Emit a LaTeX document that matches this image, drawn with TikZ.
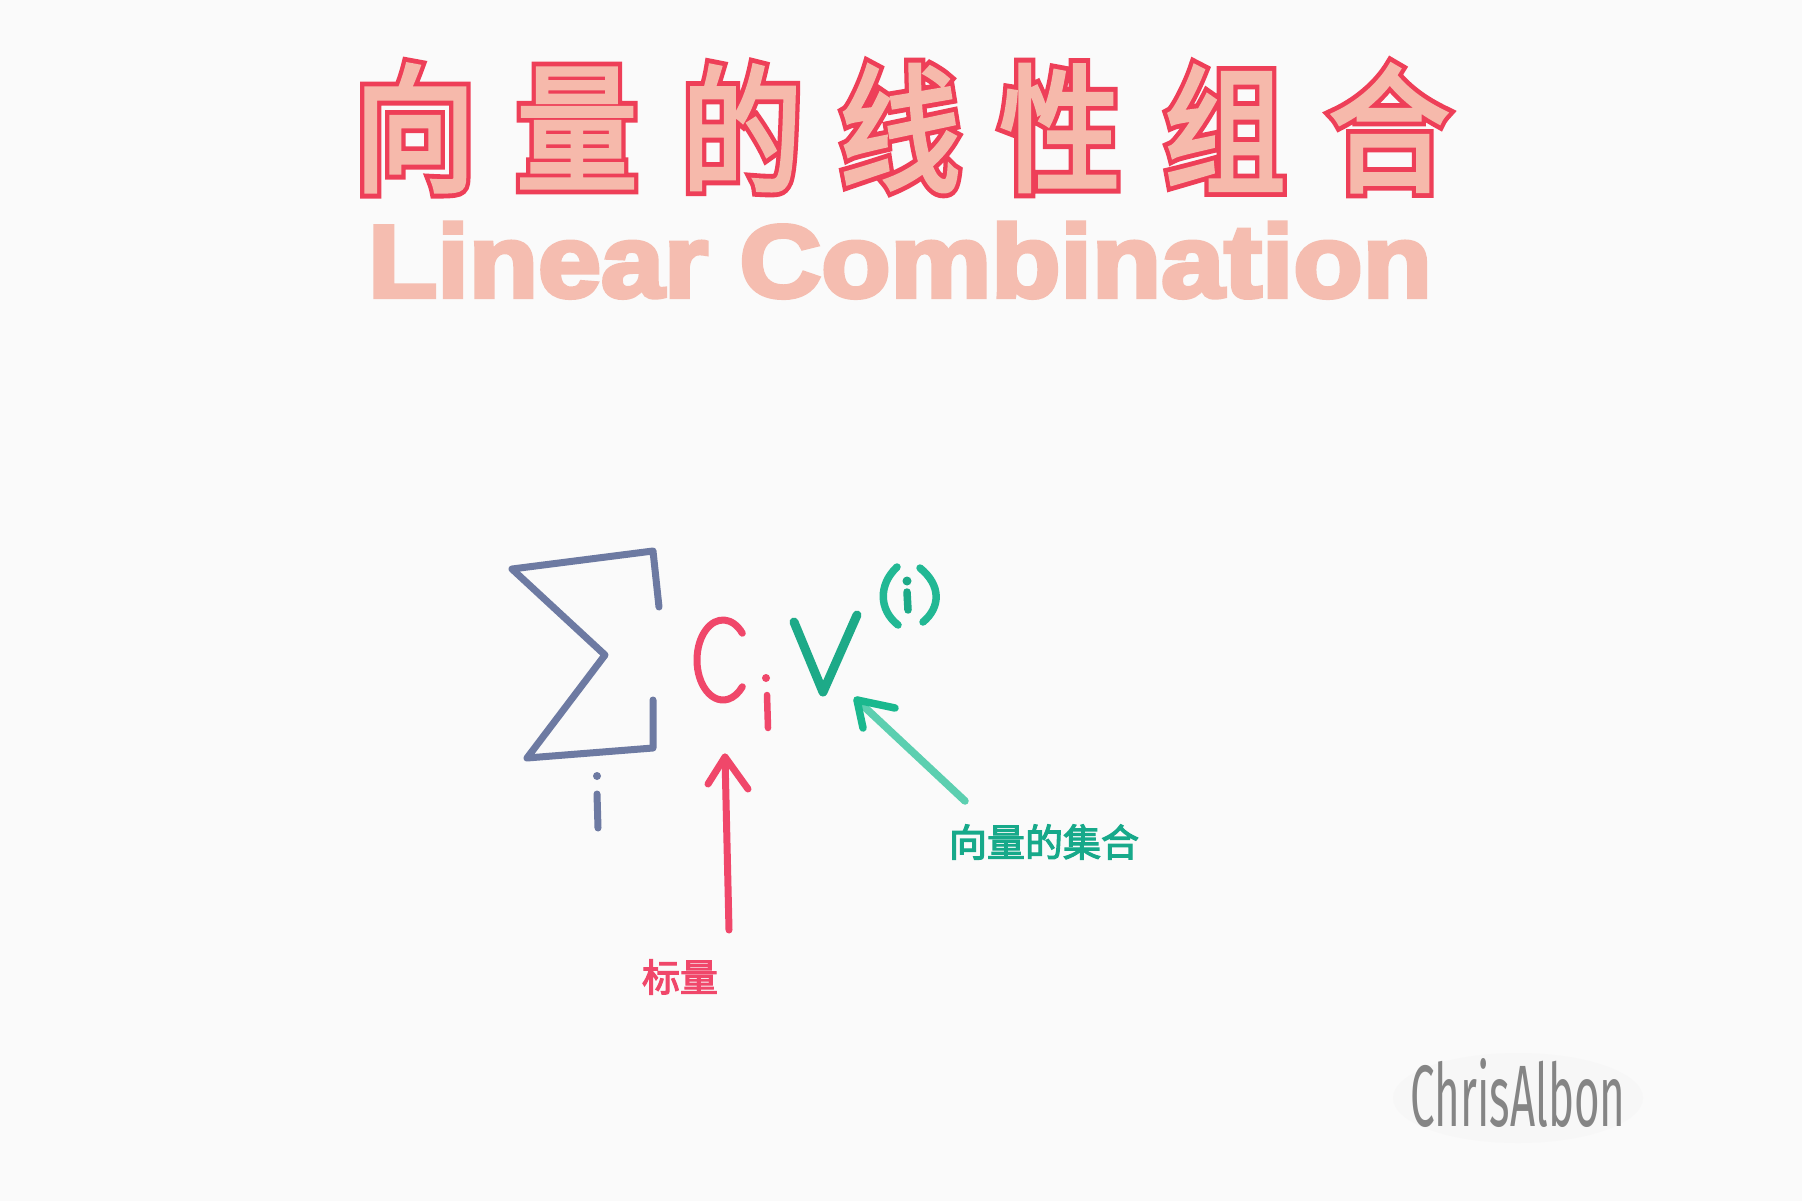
\documentclass[tikz,border=0pt]{standalone}
\usepackage{fontspec}
\usetikzlibrary{calc}
\newfontfamily\cjkout{Noto Sans CJK SC}[FakeBold=10]
\newfontfamily\cjkfill{Noto Sans CJK SC}[FakeBold=3]
\newfontfamily\cjklab{Noto Sans CJK SC}[FakeBold=3]
\newfontfamily\enfont{Liberation Sans}[BoldFeatures={FakeBold=4}]
\newfontfamily\sigfont{Fira Sans}
\definecolor{bg}{HTML}{FAFAFA}
\definecolor{titlered}{HTML}{EE3F58}
\definecolor{titlefill}{HTML}{F6B9AB}
\definecolor{subfill}{HTML}{F5BDB0}
\definecolor{sigmacol}{HTML}{6D7AA2}
\definecolor{cred}{HTML}{F0476A}
\definecolor{vgreen}{HTML}{1DAA88}
\definecolor{pgreen}{HTML}{22B894}
\definecolor{agreen}{HTML}{5CCFB0}
\definecolor{hgreen}{HTML}{1AB88E}
\definecolor{lgreen}{HTML}{17A98A}
\definecolor{sgray}{HTML}{858585}
\begin{document}
\begin{tikzpicture}[x=1pt,y=-1pt,
  titleout/.style={inner sep=0pt,text=titlered,font=\cjkout\fontsize{138pt}{138pt}\selectfont},
  titlefil/.style={inner sep=0pt,text=titlefill,font=\cjkfill\fontsize{138pt}{138pt}\selectfont},
  labelred/.style={inner sep=0pt,text=cred,font=\cjklab\fontsize{38pt}{38pt}\selectfont},
  labelgreen/.style={inner sep=0pt,text=lgreen,font=\cjklab\fontsize{38pt}{38pt}\selectfont},
  pen/.style={line cap=round,line join=round},
  sigmapen/.style={pen,draw=sigmacol,line width=7pt},
  redpen/.style={pen,draw=cred,line width=7pt},
  greenpen/.style={pen,draw=vgreen,line width=9pt},
  parenpen/.style={pen,draw=pgreen,line width=7.5pt},
  arrowpen/.style={pen,draw=agreen,line width=7.5pt},
  headpen/.style={pen,draw=hgreen,line width=7.5pt}
]
\useasboundingbox (0,0) rectangle (1802,1201);
\fill[bg] (0,0) rectangle (1802,1201);

% Title
\foreach \ch/\xx in {向/415,量/577,的/742,线/900,性/1060,组/1225,合/1389} {
  \node[titleout] (tout\xx) at (\xx,128) {\scalebox{0.88}[1]{\ch}};
}
\foreach \ch/\xx in {向/415,量/577,的/742,线/900,性/1060,组/1225,合/1389} {
  \node[titlefil] (tfil\xx) at (\xx,128) {\scalebox{0.88}[1]{\ch}};
}
\node[inner sep=0pt,anchor=base,text=subfill,font=\enfont\bfseries\fontsize{103pt}{103pt}\selectfont] (sub) at (900,297) {\scalebox{1.1}[1]{Linear Combination}};

% Sigma
\draw[sigmapen] (659,607) -- (653,551) -- (512,569) -- (605,655) -- (527,758) -- (653,748) -- (653,700);
\fill[sigmacol] (597,776) circle (4pt);
\draw[sigmapen] (597,794) -- (598,828);

% C_i
\draw[redpen] ($(723,660)+(-42:26 and 40)$) arc[start angle=-42,end angle=-318,x radius=26,y radius=40];
\fill[cred] (766,678) circle (4pt);
\draw[redpen,line width=6.5pt] (767,695) -- (768,728);

% V^(i)
\draw[greenpen] (794,622) -- (823,692) -- (857,615);
\draw[parenpen] (897,567) .. controls (878,585) and (879,610) .. (898,625);
\draw[parenpen] (920,568) .. controls (941,585) and (941,607) .. (923,622);
\fill[vgreen] (907,581) circle (4.5pt);
\draw[greenpen,line width=7.5pt] (907,592) -- (908,610);

% labels
\node[labelred] (scalar) at (680,977) {标量};
\node[labelgreen] (vecset) at (1044,842) {向量的集合};

% red arrow
\coordinate (rtail) at (729,930);
\coordinate (rtip) at (725,757);
\draw[redpen] (rtail) -- (rtip);
\draw[redpen] (708,784) -- (rtip) -- (748,789);

% green arrow
\coordinate (gtail) at (965,801);
\coordinate (gtip) at (857,700);
\draw[arrowpen] (gtail) -- (gtip);
\draw[headpen] (895,708) -- (gtip) -- (863,728);

% signature
\fill[black!3] (1518,1098) ellipse (125pt and 45pt);
\node[inner sep=0pt,anchor=base,text=sgray] (sig) at (1518,1126) {\resizebox{215pt}{68pt}{\sigfont ChrisAlbon}};
\end{tikzpicture}
\end{document}
